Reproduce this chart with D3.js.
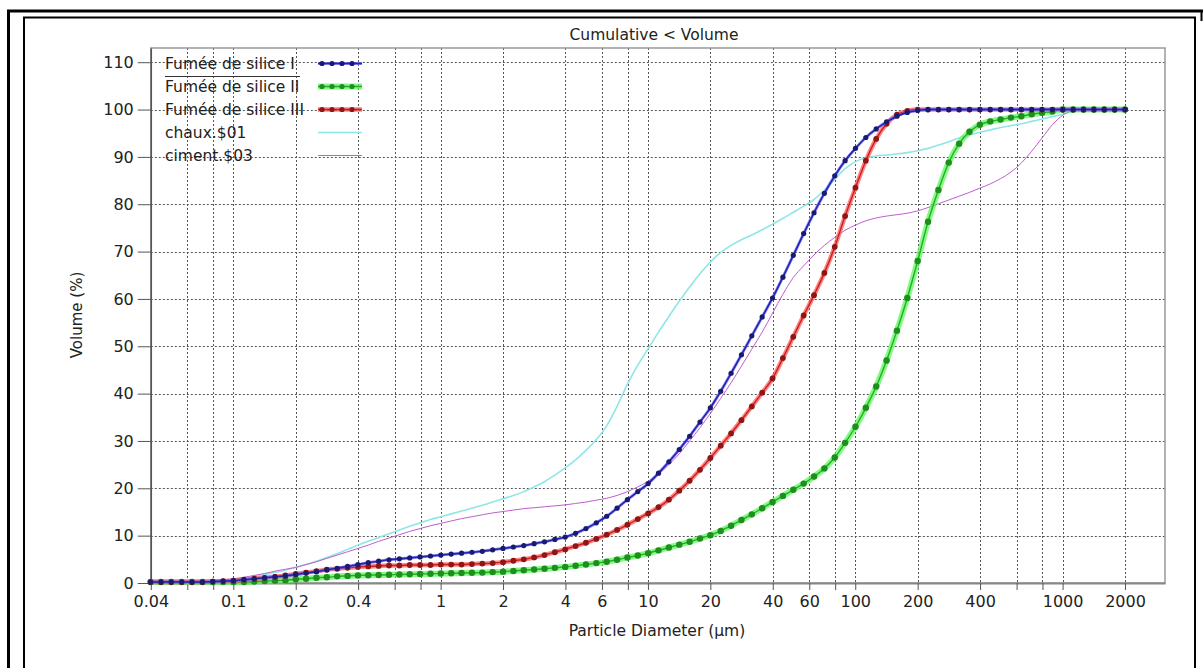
<!DOCTYPE html>
<html><head><meta charset="utf-8">
<script src="https://cdn.jsdelivr.net/npm/d3@7"></script>
<style>
html,body{margin:0;padding:0;background:#fff;}
svg{display:block;}
text{font-family:"DejaVu Sans",Arial,sans-serif;fill:#222;}
</style></head>
<body>
<svg id="chart" width="1203" height="668"></svg>
<script>
// ---- Data ----
const chartTitle = "Cumulative < Volume";
const xTitle = "Particle Diameter (µm)";
const yTitle = "Volume (%)";

const sizeClasses = [0.0399,0.0448,0.0502,0.0564,0.0632,0.0710,0.0796,0.0893,0.1002,0.1125,
0.1262,0.1416,0.1589,0.1783,0.2000,0.2244,0.2518,0.2825,0.3170,0.3557,
0.3991,0.4477,0.5024,0.5637,0.6325,0.7096,0.7962,0.8934,1.0024,1.1247,
1.2619,1.4159,1.5887,1.7825,2.0000,2.2440,2.5179,2.8251,3.1698,3.5566,
3.9905,4.4774,5.0238,5.6368,6.3246,7.0963,7.9621,8.9337,10.024,11.247,
12.619,14.159,15.887,17.825,20.000,22.440,25.179,28.251,31.698,35.566,
39.905,44.774,50.238,56.368,63.246,70.963,79.621,89.337,100.24,112.47,
126.19,141.59,158.87,178.25,200.00,224.40,251.79,282.51,316.98,355.66,
399.05,447.74,502.38,563.68,632.46,709.63,796.21,893.37,1002.4,1124.7,
1261.9,1415.9,1588.7,1782.5,2000.0];

const fumee1 = [0.2,0.2,0.2,0.2,0.2,0.2,0.3,0.4,0.5,0.7,
0.9,1.1,1.3,1.5,1.8,2.1,2.4,2.8,3.1,3.5,
3.9,4.3,4.6,4.9,5.1,5.3,5.5,5.7,5.9,6.1,
6.3,6.5,6.7,7.0,7.3,7.6,7.9,8.3,8.7,9.2,
9.7,10.5,11.5,12.7,14.1,15.8,17.6,19.3,21.0,23.2,
25.6,28.2,31.0,34.0,37.0,40.5,44.3,48.2,52.2,56.2,
60.2,64.6,69.2,73.8,78.2,82.3,86.0,89.2,91.8,94.1,
95.9,97.4,98.6,99.4,99.8,100,100,100,100,100,
100,100,100,100,100,100,100,100,100,100,
100,100,100,100,100];

const fumee2 = [0.2,0.2,0.2,0.2,0.2,0.2,0.2,0.2,0.2,0.2,
0.3,0.4,0.5,0.6,0.8,0.9,1.1,1.2,1.4,1.5,
1.6,1.65,1.7,1.75,1.8,1.85,1.9,1.95,2.0,2.05,
2.1,2.15,2.2,2.3,2.4,2.55,2.7,2.85,3.0,3.2,
3.4,3.65,3.9,4.2,4.5,4.9,5.4,5.8,6.3,6.9,
7.5,8.1,8.7,9.4,10.1,11.0,12.1,13.3,14.5,15.8,
17.1,18.4,19.7,21.0,22.5,24.2,26.5,29.6,33.0,37.0,
41.5,47.0,53.3,60.2,68.0,76.3,83.0,88.8,92.8,95.3,
96.8,97.5,97.9,98.3,98.6,99.0,99.3,99.6,100,100,
100,100,100,100,100];

const fumee3 = [0.2,0.2,0.2,0.2,0.2,0.2,0.3,0.4,0.5,0.7,
0.9,1.1,1.3,1.6,1.9,2.2,2.5,2.8,3.0,3.2,
3.4,3.5,3.6,3.7,3.7,3.8,3.8,3.8,3.9,3.9,
3.9,4.0,4.1,4.2,4.4,4.7,5.0,5.4,5.9,6.5,
7.1,7.8,8.5,9.3,10.2,11.2,12.3,13.5,14.7,16.0,
17.6,19.5,21.6,23.9,26.4,29.0,31.6,34.4,37.3,40.2,
43.2,47.5,52.0,56.5,60.8,65.5,71.0,77.5,83.5,89.2,
93.8,97.0,98.9,99.7,100,100,100,100,100,100,
100,100,100,100,100,100,100,100,100,100,
100,100,100,100,100];

const chaux = [0.1,0.15,0.2,0.3,0.4,0.5,0.6,0.7,0.8,1.1,
1.4,1.8,2.2,2.7,3.3,3.9,4.6,5.4,6.2,7.1,
8.0,8.8,9.6,10.4,11.2,12.0,12.7,13.4,14.0,14.6,
15.2,15.8,16.4,17.1,17.8,18.5,19.3,20.3,21.4,22.8,
24.3,26.0,28.0,30.3,33.2,37.3,42.0,46.0,49.5,53.0,
56.3,59.5,62.5,65.3,67.8,69.8,71.3,72.5,73.5,74.6,
75.8,77.0,78.3,79.6,81.0,83.0,85.3,87.5,89.0,89.8,
90.2,90.4,90.6,90.9,91.3,91.8,92.5,93.2,94.0,94.6,
95.2,95.7,96.2,96.6,97.0,97.5,98.0,98.5,99.0,99.6,
100,100,100,100,100];

const ciment = [0.1,0.1,0.2,0.2,0.3,0.4,0.5,0.7,0.9,1.2,
1.6,2.0,2.5,2.9,3.3,3.9,4.5,5.2,5.9,6.6,
7.3,8.0,8.8,9.5,10.2,10.9,11.5,12.1,12.6,13.1,
13.6,14.0,14.4,14.8,15.1,15.4,15.7,15.9,16.1,16.3,
16.5,16.8,17.1,17.5,17.9,18.5,19.3,20.3,21.5,23.0,
25.0,27.3,30.0,32.8,35.8,39.0,42.3,45.8,49.4,53.0,
57.0,61.0,64.5,67.0,69.3,71.3,73.0,74.5,75.6,76.5,
77.1,77.5,77.8,78.1,78.6,79.3,80.1,80.9,81.7,82.5,
83.4,84.3,85.4,86.8,88.7,91.2,94.0,96.8,98.8,99.8,
100,100,100,100,100];

const seriesNames = ["Fumée de silice I","Fumée de silice II","Fumée de silice III","chaux.$01","ciment.$03"];

const xTickLabels = [0.04,0.1,0.2,0.4,1,2,4,6,10,20,40,60,100,200,400,1000,2000];
const xMinorTicks = [0.06,0.08,0.6,0.8,8,80,600,800];
const yTicks = [0,10,20,30,40,50,60,70,80,90,100,110];

// ---- Layout ----
const svg = d3.select("#chart");
const L = 150.8, R = 1165, T = 48, B = 583;
const x = d3.scaleLog().domain([0.04, 3119]).range([L, R]);
const y = d3.scaleLinear().domain([0, 113]).range([B, T]);

// outer frame
const frame = svg.append("g").attr("stroke","#000").attr("fill","none");
frame.append("line").attr("x1",7).attr("x2",1203).attr("y1",11).attr("y2",11).attr("stroke-width",3);
frame.append("line").attr("x1",8.5).attr("x2",8.5).attr("y1",10).attr("y2",668).attr("stroke-width",3);
frame.append("line").attr("x1",1201.5).attr("x2",1201.5).attr("y1",10).attr("y2",21).attr("stroke-width",2);
frame.append("line").attr("x1",23).attr("x2",1196).attr("y1",17.5).attr("y2",17.5).attr("stroke-width",2);
frame.append("line").attr("x1",24).attr("x2",24).attr("y1",17).attr("y2",668).attr("stroke-width",2);
frame.append("line").attr("x1",1195).attr("x2",1195).attr("y1",17).attr("y2",668).attr("stroke-width",2);

// grid
const grid = svg.append("g").attr("stroke","#555").attr("stroke-width",1).attr("stroke-dasharray","2,2").attr("fill","none");
const gridX = xTickLabels.concat(xMinorTicks).filter(v => v > 0.04);
grid.selectAll("line.gx").data(gridX).join("line")
  .attr("x1", d => Math.round(x(d)) + 0.5).attr("x2", d => Math.round(x(d)) + 0.5)
  .attr("y1", T).attr("y2", B);
grid.selectAll("line.gy").data(yTicks.filter(v => v > 0)).join("line")
  .attr("x1", L).attr("x2", R)
  .attr("y1", d => Math.round(y(d)) + 0.5).attr("y2", d => Math.round(y(d)) + 0.5);

// plot frame
svg.append("rect").attr("x", L).attr("y", T).attr("width", R - L).attr("height", B - T)
  .attr("fill","none").attr("stroke","#999").attr("stroke-width",1.5);

// axes
const xAxis = d3.axisBottom(x).tickValues(xTickLabels.concat(xMinorTicks))
  .tickFormat(d => xTickLabels.includes(d) ? String(d) : "").tickSize(7).tickSizeOuter(0).tickPadding(6);
const gx = svg.append("g").attr("transform", `translate(0,${B})`).call(xAxis);
gx.select(".domain").attr("stroke","#888").attr("stroke-width",2);
gx.selectAll(".tick line").attr("stroke","#555");
gx.selectAll(".tick text").attr("font-size",16).attr("fill","#222").style("font-family","DejaVu Sans");

const yAxis = d3.axisLeft(y).tickValues(yTicks).tickSize(13).tickSizeOuter(0).tickPadding(4);
const gy = svg.append("g").attr("transform", `translate(${L},0)`).call(yAxis);
gy.select(".domain").attr("stroke","#555").attr("stroke-width",1.5);
gy.selectAll(".tick line").attr("stroke","#555");
gy.selectAll(".tick text").attr("font-size",16).attr("fill","#222").style("font-family","DejaVu Sans");

// titles
svg.append("text").attr("x", 654).attr("y", 40).attr("text-anchor","middle").attr("font-size",15.5).text(chartTitle);
svg.append("text").attr("x", 657).attr("y", 636).attr("text-anchor","middle").attr("font-size",15.5).text(xTitle);
svg.append("text").attr("transform","translate(82,315) rotate(-90)").attr("text-anchor","middle").attr("font-size",15).text(yTitle);

// series
const plot = svg.append("g");
const mk = vals => sizeClasses.map((s, i) => [s, vals[i]]);
const line = d3.line().x(d => x(d[0])).y(d => y(d[1])).curve(d3.curveMonotoneX);

const thinSeries = [
  {vals: chaux, color: "#8fe6e6", w: 1.6},
  {vals: ciment, color: "#c05ed0", w: 1}
];
thinSeries.forEach(s => {
  plot.append("path").datum(mk(s.vals)).attr("d", line).attr("fill","none")
    .attr("stroke", s.color).attr("stroke-width", s.w);
});

const dotSeries = [
  {vals: fumee2, halo: "#5cf55c", haloW: 6, core: "#22b022", coreW: 1.4, dot: "#1e8e1e", r: 3.2},
  {vals: fumee3, halo: "#ff5a5a", haloW: 4.5, core: "#cc2020", coreW: 1.4, dot: "#8e1616", r: 2.9},
  {vals: fumee1, halo: "#6a6aff", haloW: 3, core: "#2424b0", coreW: 1.6, dot: "#1a1a6e", r: 2.6}
];
dotSeries.forEach(s => {
  const pts = mk(s.vals);
  plot.append("path").datum(pts).attr("d", line).attr("fill","none")
    .attr("stroke", s.halo).attr("stroke-width", s.haloW).attr("stroke-opacity", 0.75);
  plot.append("path").datum(pts).attr("d", line).attr("fill","none")
    .attr("stroke", s.core).attr("stroke-width", s.coreW);
  plot.append("g").selectAll("circle").data(pts).join("circle")
    .attr("cx", d => x(d[0])).attr("cy", d => y(d[1])).attr("r", s.r).attr("fill", s.dot);
});

// legend
const leg = svg.append("g");
const legY0 = 63.5, legDy = 23;
const legStyles = [
  {halo: "#6a6aff", haloW: 3, core: "#2424b0", dot: "#1a1a6e"},
  {halo: "#5cf55c", haloW: 6, core: "#22b022", dot: "#1e8e1e"},
  {halo: "#ff5a5a", haloW: 4.5, core: "#cc2020", dot: "#8e1616"},
  {core: "#8fe6e6", w: 1.6},
  {core: "#c05ed0", w: 1}
];
seriesNames.forEach((n, i) => {
  const cy = legY0 + i * legDy;
  leg.append("text").attr("x", 165).attr("y", cy + 5.5).attr("font-size", 15.5).text(n);
  const st = legStyles[i];
  if (st.halo) {
    leg.append("line").attr("x1",318).attr("x2",362).attr("y1",cy).attr("y2",cy)
      .attr("stroke", st.halo).attr("stroke-width", st.haloW).attr("stroke-opacity",0.75);
    leg.append("line").attr("x1",318).attr("x2",362).attr("y1",cy).attr("y2",cy)
      .attr("stroke", st.core).attr("stroke-width", 1.4);
    [322, 332, 342, 352].forEach(cx => leg.append("circle").attr("cx", cx).attr("cy", cy).attr("r", 2.6).attr("fill", st.dot));
  } else {
    leg.append("line").attr("x1",318).attr("x2",362).attr("y1",cy).attr("y2",cy)
      .attr("stroke", st.core).attr("stroke-width", st.w);
  }
});
leg.append("line").attr("x1",165).attr("x2",300).attr("y1",76.5).attr("y2",76.5).attr("stroke","#333").attr("stroke-width",1);
</script>
</body></html>
